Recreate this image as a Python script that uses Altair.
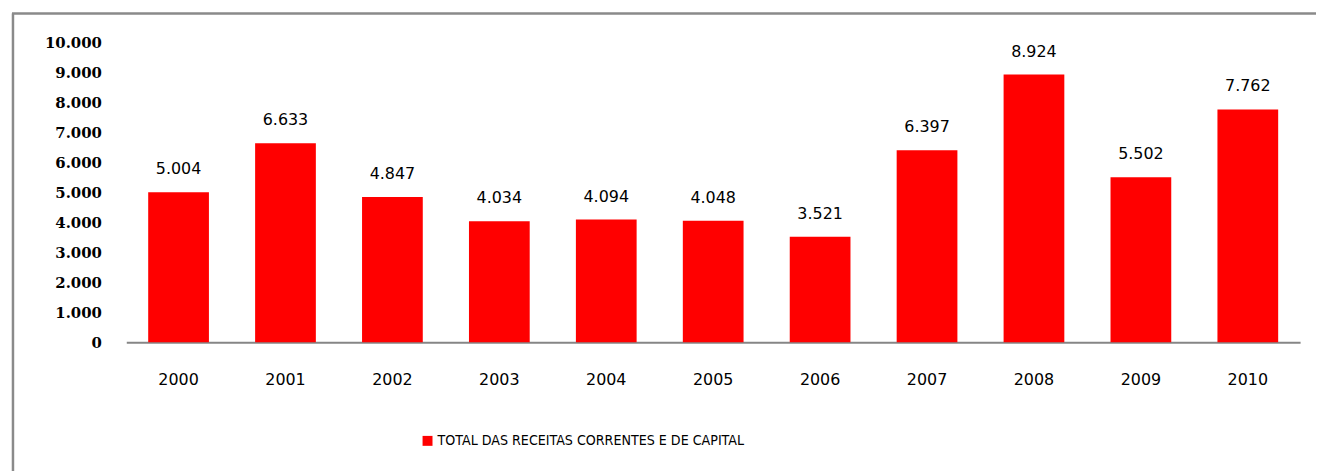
import altair as alt
import pandas as pd

years = ["2000", "2001", "2002", "2003", "2004", "2005", "2006", "2007", "2008", "2009", "2010"]
values = [5004, 6633, 4847, 4034, 4094, 4048, 3521, 6397, 8924, 5502, 7762]
series_name = "TOTAL DAS RECEITAS CORRENTES E DE CAPITAL"
y_ticks = [0, 1000, 2000, 3000, 4000, 5000, 6000, 7000, 8000, 9000, 10000]

df = pd.DataFrame({
    "ano": years,
    "valor": values,
    "label": [f"{v:,}".replace(",", ".") for v in values],
    "serie": [series_name] * len(years),
})

W, H = 1181, 302
base = alt.Chart(df)

xscale = alt.Scale(paddingInner=0.432, paddingOuter=0.205)
yscale = alt.Scale(domain=[0, 10000], nice=False)

xaxis = alt.Axis(
    labelAngle=0, ticks=False, domain=True, domainColor="#868686", domainWidth=2,
    labelPadding=29, labelFont="DejaVu Sans", labelFontSize=16, labelColor="#000000",
)
yaxis = alt.Axis(
    values=y_ticks, ticks=False, domain=False, grid=False, labelPadding=25,
    labelOverlap=False,
    labelFont="DejaVu Serif", labelFontWeight="bold", labelFontSize=15,
    labelColor="#000000", labelExpr="replace(format(datum.value, ','), ',', '.')",
)

xenc = alt.X("ano:N", title=None, sort=years, scale=xscale, axis=xaxis)
yenc = alt.Y("valor:Q", title=None, scale=yscale, axis=yaxis)

bars = base.mark_bar(color="#ff0000").encode(
    x=xenc,
    y=yenc,
    color=alt.Color(
        "serie:N",
        scale=alt.Scale(range=["#ff0000"]),
        legend=alt.Legend(
            title=None, orient="none", legendX=296, legendY=394, padding=0,
            symbolType="square", symbolSize=100, symbolStrokeWidth=0,
            labelFont="Liberation Sans Narrow, DejaVu Sans Condensed, DejaVu Sans",
            labelFontSize=14.2, labelColor="#000000", labelOffset=3, labelLimit=600,
        ),
    ),
)

labels = base.mark_text(
    dy=-23, baseline="middle", align="center", font="DejaVu Sans", fontSize=16, color="#000000"
).encode(x=xenc, y=yenc, text="label:N")

frame_left = alt.Chart().mark_rule(color="#8a8a8a", strokeWidth=2.5).encode(
    x=alt.value(-114), y=alt.value(-29), y2=alt.value(460)
)
frame_top = alt.Chart().mark_rule(color="#8a8a8a", strokeWidth=2.5).encode(
    x=alt.value(-115), x2=alt.value(1300), y=alt.value(-29)
)

chart = alt.layer(bars, labels, frame_left, frame_top).properties(
    width=W, height=H,
    background="#ffffff",
    autosize=alt.AutoSizeParams(type="none"),
    padding={"left": 119, "top": 33, "right": 16, "bottom": 128},
).configure_view(strokeWidth=0)

chart.save("out.html", embed_options={"renderer": "svg", "actions": False})
